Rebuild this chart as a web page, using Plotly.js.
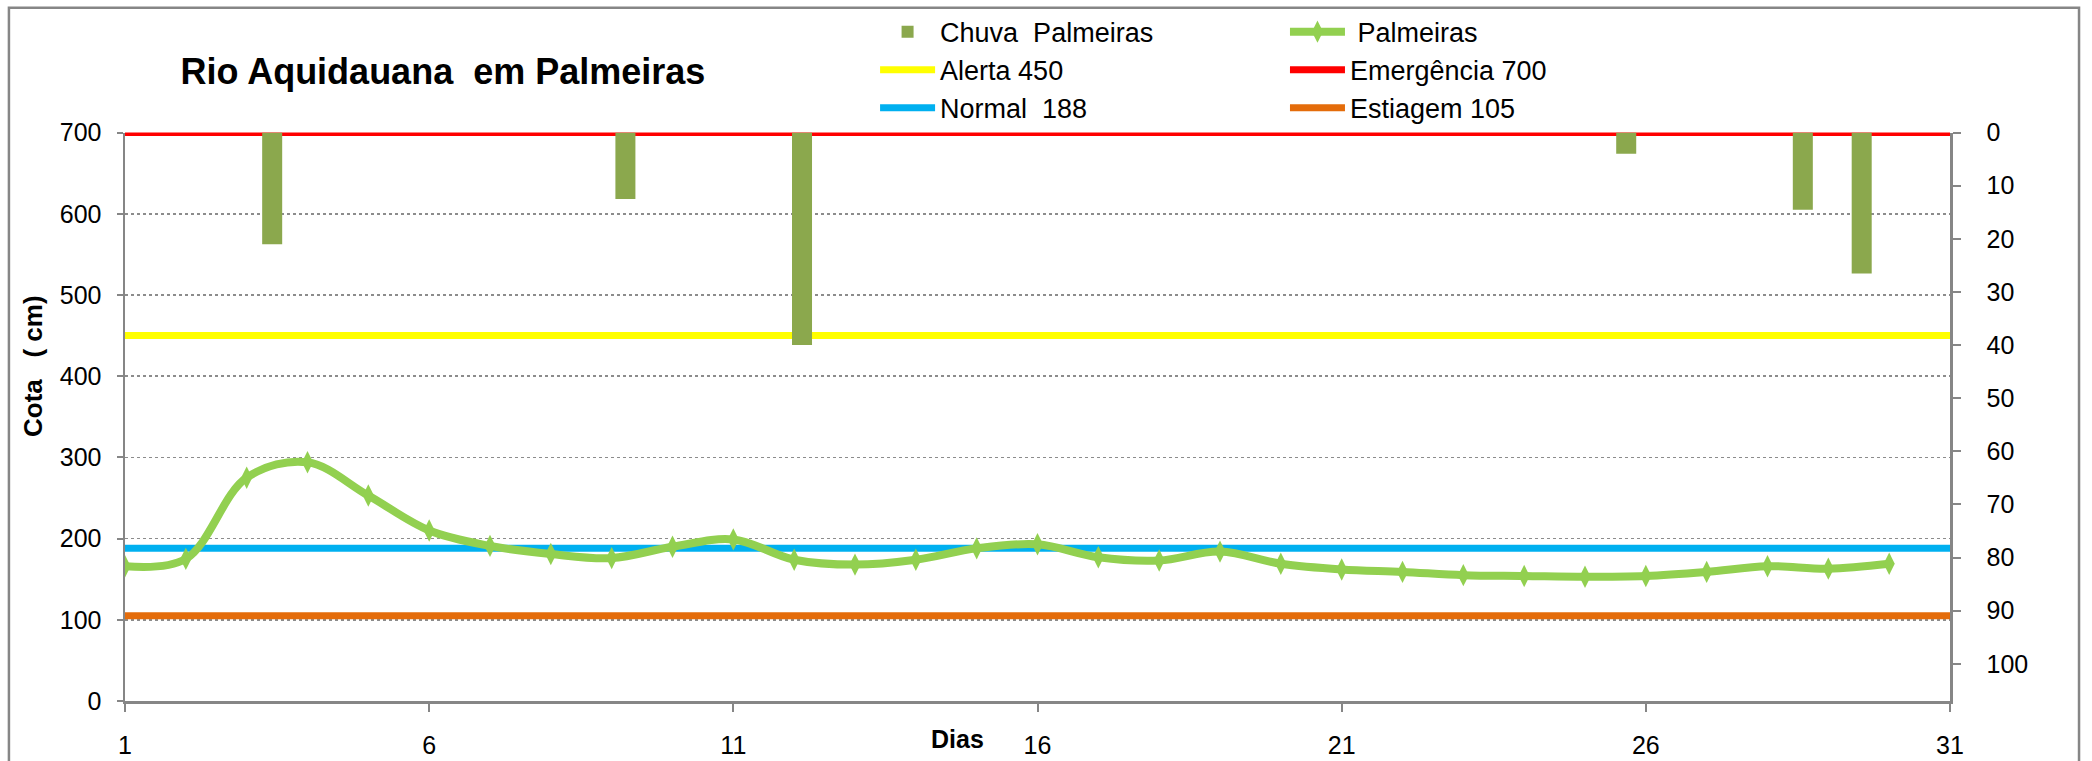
<!DOCTYPE html>
<html>
<head>
<meta charset="utf-8">
<script src="https://cdn.plot.ly/plotly-3.0.1.min.js"></script>
<style>
  html, body { margin: 0; padding: 0; background: #ffffff; }
  #chart { width: 2092px; height: 761px; }
</style>
</head>
<body>
<div id="chart"></div>
<script>
// ---- Data ----
const days = [1, 2, 3, 4, 5, 6, 7, 8, 9, 10, 11, 12, 13, 14, 15, 16, 17, 18, 19, 20,
              21, 22, 23, 24, 25, 26, 27, 28, 29, 30];
const palmeiras = [166, 175, 275, 294, 253, 210, 191, 181, 176, 190, 199, 174, 168, 174, 188,
                   193, 177, 173, 184, 169, 162, 159, 155, 154, 153, 154, 159, 166, 163, 169];
const rainDays = [3, 9, 12, 26, 29, 30];
const chuvaPalmeiras = [21, 12.5, 40, 4, 14.5, 26.5];
const limitDays = [1, 31];
const alerta = [450, 450];
const emergencia = [700, 700];
const normal = [188, 188];
const estiagem = [105, 105];
const xTickVals = [1, 6, 11, 16, 21, 26, 31];
const xTickText = ['1', '6', '11', '16', '21', '26', '31'];

const FONT = 'Liberation Sans, Arial, sans-serif';
const nb = '\u00a0';

const traces = [
  {
    type: 'scatter', mode: 'lines', name: 'Alerta 450',
    x: limitDays, y: alerta, xaxis: 'x', yaxis: 'y',
    line: { color: '#FFFF00', width: 7 }, legend: 'legend', legendrank: 2, hoverinfo: 'skip'
  },
  {
    type: 'scatter', mode: 'lines', name: 'Normal' + nb + nb + '188',
    x: limitDays, y: normal, xaxis: 'x', yaxis: 'y',
    line: { color: '#00B0F0', width: 7 }, legend: 'legend', legendrank: 3, hoverinfo: 'skip'
  },
  {
    type: 'scatter', mode: 'lines', name: 'Emergência 700',
    x: limitDays, y: emergencia, xaxis: 'x', yaxis: 'y',
    line: { color: '#FF0000', width: 7 }, legend: 'legend2', legendrank: 2, hoverinfo: 'skip'
  },
  {
    type: 'scatter', mode: 'lines', name: 'Estiagem 105',
    x: limitDays, y: estiagem, xaxis: 'x', yaxis: 'y',
    line: { color: '#E46C0A', width: 7 }, legend: 'legend2', legendrank: 3, hoverinfo: 'skip'
  },
  {
    type: 'scatter', mode: 'lines+markers', name: nb + 'Palmeiras',
    x: days, y: palmeiras, xaxis: 'x', yaxis: 'y',
    line: { color: '#92D050', width: 8, shape: 'spline', smoothing: 1 },
    marker: { symbol: 'diamond-tall', size: 16, color: '#92D050' },
    legend: 'legend2', legendrank: 1
  },
  {
    type: 'bar', name: 'Chuva' + nb + nb + 'Palmeiras',
    x: rainDays, y: chuvaPalmeiras, xaxis: 'x2', yaxis: 'y2',
    width: 0.34,
    marker: { color: '#8BA84D', line: { width: 0 } },
    legend: 'legend', legendrank: 1
  }
];

const layout = {
  width: 2092, height: 761,
  margin: { l: 125, r: 142, t: 131, b: 60 },
  paper_bgcolor: '#ffffff', plot_bgcolor: '#ffffff',
  font: { family: FONT, size: 25, color: '#000000' },
  showlegend: true,
  title: {
    text: '<b>Rio Aquidauana' + nb + nb + 'em Palmeiras</b>',
    font: { family: FONT, size: 36, color: '#000000' },
    xref: 'paper', x: 0.1742, xanchor: 'center',
    yref: 'container', y: 0.906, yanchor: 'middle'
  },
  xaxis: {
    range: [1, 31], tickvals: xTickVals, ticktext: xTickText,
    showline: true, linecolor: '#868686', linewidth: 2.5,
    ticks: 'outside', ticklen: 8, tickwidth: 2, tickcolor: '#868686',
    showgrid: false, zeroline: false,
    tickfont: { family: FONT, size: 25, color: '#000' },
    ticklabelstandoff: 12,
    anchor: 'y', fixedrange: true
  },
  yaxis: {
    range: [0, 700], dtick: 100, tick0: 0, side: 'left',
    showline: true, linecolor: '#868686', linewidth: 2.5,
    ticks: 'outside', ticklen: 6, tickwidth: 2, tickcolor: '#868686',
    showgrid: true, gridcolor: '#8c8c8c', gridwidth: 1.5, griddash: 'dot',
    zeroline: false,
    tickfont: { family: FONT, size: 25, color: '#000' },
    ticklabelstandoff: 10,
    title: {
      text: '<b>' + nb.repeat(14) + 'Cota' + nb + nb + nb + '(' + nb + 'cm)</b>',
      font: { family: FONT, size: 26, color: '#000' },
      standoff: 10
    },
    anchor: 'x', fixedrange: true
  },
  xaxis2: {
    range: [0.5, 31.5], overlaying: 'x', anchor: 'y2', visible: false,
    showgrid: false, zeroline: false, fixedrange: true
  },
  yaxis2: {
    range: [107, 0], dtick: 10, tick0: 0, side: 'right', overlaying: 'y', anchor: 'x2',
    showline: true, linecolor: '#868686', linewidth: 2.5,
    ticks: 'outside', ticklen: 8, tickwidth: 2, tickcolor: '#868686',
    showgrid: false, zeroline: false,
    tickfont: { family: FONT, size: 25, color: '#000' },
    ticklabelstandoff: 21,
    fixedrange: true
  },
  legend: {
    x: 0.411, xanchor: 'left', y: 0.990, yanchor: 'top',
    xref: 'paper', yref: 'container',
    orientation: 'v', traceorder: 'normal',
    font: { family: FONT, size: 27, color: '#000' },
    itemwidth: 55, bgcolor: 'rgba(0,0,0,0)', borderwidth: 0
  },
  legend2: {
    x: 0.6356, xanchor: 'left', y: 0.990, yanchor: 'top',
    xref: 'paper', yref: 'container',
    orientation: 'v', traceorder: 'normal',
    font: { family: FONT, size: 27, color: '#000' },
    itemwidth: 55, bgcolor: 'rgba(0,0,0,0)', borderwidth: 0
  },
  annotations: [
    {
      text: '<b>Dias</b>', xref: 'paper', yref: 'paper',
      x: 0.4564, y: -0.0668, xanchor: 'center', yanchor: 'middle',
      showarrow: false, font: { family: FONT, size: 25, color: '#000' }
    }
  ],
  shapes: [
    {
      type: 'rect', xref: 'paper', yref: 'paper',
      x0: -0.0636, x1: 1.0707, y0: -0.25, y1: 1.2197,
      line: { color: '#868686', width: 2.5 }, fillcolor: 'rgba(0,0,0,0)', layer: 'below'
    }
  ]
};

Plotly.newPlot('chart', traces, layout, { displayModeBar: false, staticPlot: true });
</script>
</body>
</html>
